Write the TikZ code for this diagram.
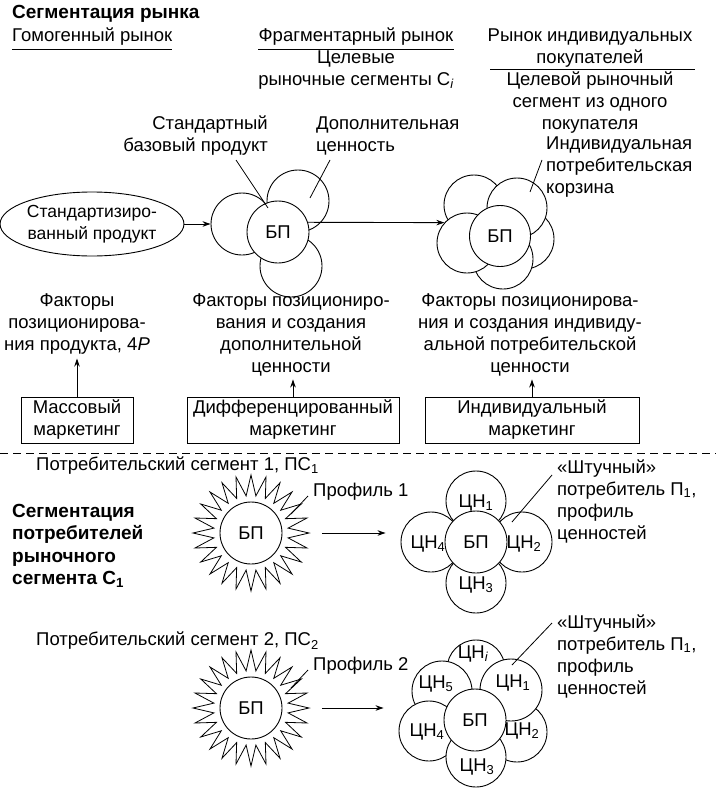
\documentclass[tikz,border=0pt]{standalone}
\usepackage{fontspec}
\setmainfont{Liberation Sans}
\usetikzlibrary{arrows.meta,shapes.geometric}
\begin{document}
\begin{tikzpicture}[x=1pt,y=-1pt,
  txt/.style={font=\fontsize{18.5}{22}\selectfont, inner sep=0pt, align=center},
  bld/.style={font=\fontsize{19}{22.5}\selectfont\bfseries, inner sep=0pt, align=left},
  circ/.style={circle, draw, fill=white, line width=0.9pt, inner sep=0pt, minimum size=62pt},
  petal/.style={circle, draw, fill=white, line width=0.9pt, inner sep=0pt, minimum size=60pt},
  boxx/.style={draw, line width=0.9pt, font=\fontsize{18.5}{22}\selectfont, align=center, minimum height=46pt, inner sep=0pt},
  arr/.style={-{Stealth[length=8pt,width=5.5pt]}, line width=0.9pt},
  lead/.style={line width=0.8pt},
  sunstar/.style={star, star points=24, star point ratio=1.55, draw, line width=0.8pt, minimum size=116pt, inner sep=0pt}
]
\useasboundingbox (0,0) rectangle (716,792);

% ---------- top headings ----------
\node[bld, anchor=west] (title) at (12,14) {Сегментация рынка};
\node[txt, anchor=west] (hom) at (12,37) {Гомогенный рынок};
\draw[line width=0.8pt] ([yshift=-3pt]hom.south west) -- ([yshift=-3pt]hom.south east);
\node[txt] (frag) at (356,37) {Фрагментарный рынок};
\draw[line width=0.8pt] ([yshift=-3pt]frag.south west) -- ([yshift=-3pt]frag.south east);
\node[txt] (tseg) at (356,70) {Целевые\\рыночные сегменты С\textsubscript{\itshape i}};
\node[txt] (indm) at (590,48) {Рынок индивидуальных\\покупателей};
\coordinate (ul1) at (490,69);
\coordinate (ul2) at (695,69);
\draw[line width=0.8pt] (ul1) -- (ul2);
\node[txt] (tind) at (590,103) {Целевой рыночный\\сегмент из одного\\покупателя};
\node[txt, align=left, anchor=west] (basket) at (546,167) {Индивидуальная\\потребительская\\корзина};

\node[txt, align=right, anchor=east] (std) at (268,136) {Стандартный\\базовый продукт};
\node[txt, align=left, anchor=west] (addv) at (316,136) {Дополнительная\\ценность};

% ---------- ellipse ----------
\node[ellipse, draw, line width=0.9pt, minimum width=172pt, minimum height=64pt, txt, font=\fontsize{17.5}{22}\selectfont] (ell) at (92,224) {Стандартизиро-\\ванный продукт};

% ---------- flower 1 ----------
\node[circ] (f1l) at (242,224) {};
\node[circ] (f1b) at (291,266) {};
\node[circ] (f1t) at (298,201) {};
\node[circ, txt, minimum size=62pt] (bp1) at (278,232) {БП};

% ---------- flower 2 ----------
\node[petal] (f2tl) at (474,205) {};
\node[petal] (f2r) at (524,239) {};
\node[petal] (f2b) at (503,259) {};
\node[petal] (f2tr) at (517,208) {};
\node[petal] (f2l) at (467,243) {};
\node[circ, txt, minimum size=61pt] (bp2) at (500,236) {БП};

\draw[arr] (ell.east) -- (f1l.west);
\draw[arr] (bp1.18) -- (f2l.138);

\coordinate (s1a) at (236,160);
\coordinate (s1b) at (268,208);
\draw[lead] (s1a) -- (s1b);
\coordinate (d1a) at (330,160);
\coordinate (d1b) at (310,198);
\draw[lead] (d1a) -- (d1b);
\coordinate (k1a) at (542,160);
\coordinate (k1b) at (530,192);
\draw[lead] (k1a) -- (k1b);

% ---------- factors ----------
\node[txt] (fa1) at (77,324) {Факторы\\позиционирова-\\ния продукта, 4\textit{P}};
\node[txt] (fa2) at (291,335) {Факторы позициониро-\\вания и создания\\дополнительной\\ценности};
\node[txt] (fa3) at (530,335) {Факторы позиционирова-\\ния и создания индивиду-\\альной потребительской\\ценности};

\node[boxx, minimum width=112pt] (m1) at (77,420) {Массовый\\маркетинг};
\node[boxx, minimum width=212pt] (m2) at (293,420) {Дифференцированный\\маркетинг};
\node[boxx, minimum width=214pt] (m3) at (532,420) {Индивидуальный\\маркетинг};

\draw[arr, shorten >=4pt] (m1.north) -- (m1.north |- fa1.south);
\draw[arr, shorten >=3pt] (m2.north) -- (m2.north |- fa2.south);
\draw[arr, shorten >=3pt] (m3.north) -- (m3.north |- fa3.south);

% ---------- dashed separator ----------
\coordinate (dl1) at (0,453);
\coordinate (dl2) at (716,453);
\draw[line width=0.8pt, dash pattern=on 8pt off 5pt] (dl1) -- (dl2);

% ---------- segment 1 ----------
\node[txt, anchor=west] (ps1) at (36,466) {Потребительский сегмент 1, ПС\textsubscript{1}};
\node[bld, anchor=west] (segc) at (12,546) {Сегментация\\потребителей\\рыночного\\сегмента С\textsubscript{1}};

\node[sunstar] (sun1) at (251,533) {};
\node[circ, txt] (sbp1) at (251,533) {БП};
\node[txt, anchor=west] (pr1) at (313,492) {Профиль 1};
\coordinate (p1a) at (308,496);
\coordinate (p1b) at (291,514);
\draw[lead] (p1a) -- (p1b);

\node[petal] (c1) at (476,501) {};
\node[petal] (c2) at (522,542) {};
\node[petal] (c3) at (476,583) {};
\node[petal] (c4) at (431,542) {};
\node[circ, txt] (cbp) at (476,542) {БП};
\node[txt] (c1t) at (476,503) {ЦН\textsubscript{1}};
\node[txt] (c2t) at (524,544) {ЦН\textsubscript{2}};
\node[txt] (c3t) at (476,585) {ЦН\textsubscript{3}};
\node[txt] (c4t) at (428,544) {ЦН\textsubscript{4}};

\draw[arr, shorten <=11pt, shorten >=15pt] (sun1.east) -- (c4.west |- sun1.east);

\node[txt, align=left, anchor=west] (sh1) at (557,501) {«Штучный»\\потребитель П\textsubscript{1},\\профиль\\ценностей};
\coordinate (h1a) at (552,475);
\coordinate (h1b) at (512,522);
\draw[lead] (h1a) -- (h1b);

% ---------- segment 2 ----------
\node[txt, anchor=west] (ps2) at (36,641) {Потребительский сегмент 2, ПС\textsubscript{2}};
\node[sunstar] (sun2) at (251,708) {};
\node[circ, txt] (sbp2) at (251,708) {БП};
\node[txt, anchor=west] (pr2) at (313,666) {Профиль 2};
\coordinate (p2a) at (308,670);
\coordinate (p2b) at (291,688);
\draw[lead] (p2a) -- (p2b);

\node[circle, draw, fill=white, line width=0.9pt, inner sep=0pt, minimum size=58pt] (di) at (476,669) {};
\node[petal] (d2) at (517,732) {};
\node[petal] (d5) at (442,691) {};
\node[petal] (d4) at (429,731) {};
\node[petal] (d3) at (476,757) {};
\node[circle, draw, fill=white, line width=0.9pt, inner sep=0pt, minimum size=62pt] (d1) at (511,690) {};
\node[circ, txt] (dbp) at (475,720) {БП};
\node[txt] (dit) at (473,654) {ЦН\textsubscript{\itshape i}};
\node[txt] (d1t) at (513,683) {ЦН\textsubscript{1}};
\node[txt] (d2t) at (522,731) {ЦН\textsubscript{2}};
\node[txt] (d3t) at (477,767) {ЦН\textsubscript{3}};
\node[txt] (d4t) at (427,732) {ЦН\textsubscript{4}};
\node[txt] (d5t) at (436,684) {ЦН\textsubscript{5}};

\draw[arr, shorten <=11pt, shorten >=15pt] (sun2.east) -- (d4.west |- sun2.east);

\node[txt, align=left, anchor=west] (sh2) at (557,656) {«Штучный»\\потребитель П\textsubscript{1},\\профиль\\ценностей};
\coordinate (h2a) at (552,623);
\coordinate (h2b) at (512,665);
\draw[lead] (h2a) -- (h2b);
\end{tikzpicture}
\end{document}
